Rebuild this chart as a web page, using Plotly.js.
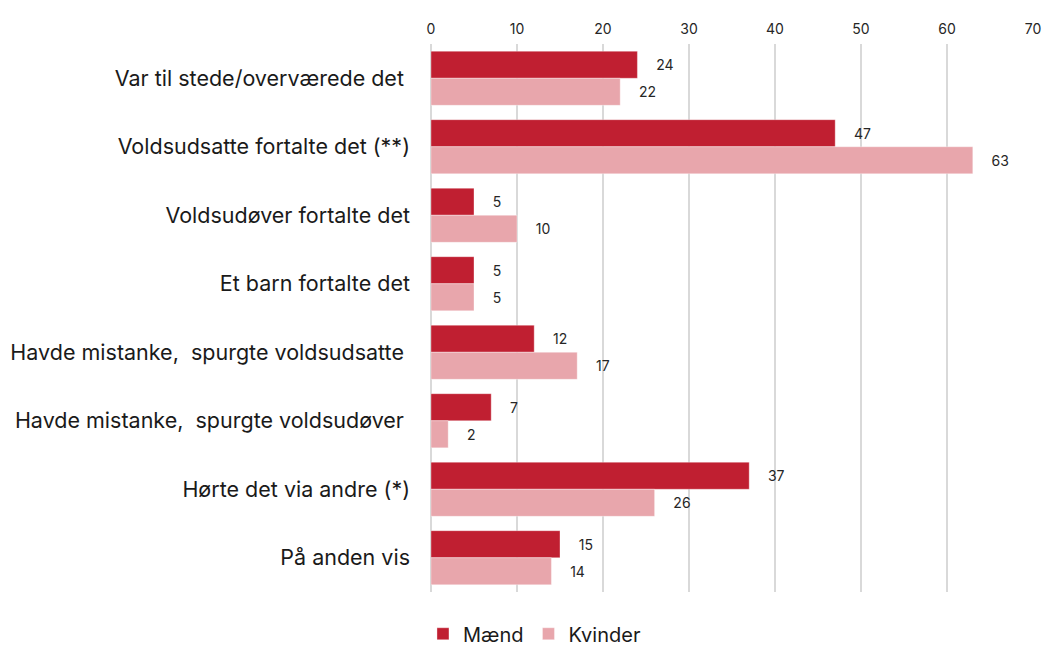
<!DOCTYPE html>
<html><head><meta charset="utf-8">
<script src="https://cdn.plot.ly/plotly-3.0.1.min.js"></script>
<style>html,body{margin:0;padding:0;background:#fff}#chart{width:1048px;height:650px}</style>
</head><body><div id="chart"></div>
<script>
const categories = [
  "Var til stede/overværede det\u00a0",
  "Voldsudsatte fortalte det (**)",
  "Voldsudøver fortalte det",
  "Et barn fortalte det",
  "Havde mistanke,\u00a0 spurgte voldsudsatte\u00a0",
  "Havde mistanke,\u00a0 spurgte voldsudøver\u00a0",
  "Hørte det via andre (*)",
  "På anden vis"
];
const maend = [24, 47, 5, 5, 12, 7, 37, 15];
const kvinder = [22, 63, 10, 5, 17, 2, 26, 14];
const xTicks = [0, 10, 20, 30, 40, 50, 60, 70];

const font = "Inter, 'Open Sans', sans-serif";
const mk = (name, vals, color) => ({
  type: 'bar', orientation: 'h', name: name,
  y: categories, x: vals,
  marker: {color: color, line: {color: 'rgba(255,255,255,0.35)', width: 1}},
  text: vals.map(v => '\u00a0\u00a0\u00a0\u00a0' + v),
  textposition: 'outside', cliponaxis: false,
  textfont: {family: font, size: 14, color: '#262626'},
  hoverinfo: 'x+name'
});
const data = [mk('Mænd', maend, '#C01F31'), mk('Kvinder', kvinder, '#E8A6AC')];
const layout = {
  width: 1048, height: 650,
  margin: {l: 431, r: 15, t: 44, b: 58, autoexpand: false},
  paper_bgcolor: '#fff', plot_bgcolor: '#fff',
  barmode: 'group', bargap: 0.21, bargroupgap: 0,
  font: {family: font, color: '#1a1a1a'},
  xaxis: {
    side: 'top', range: [0, 70], tickvals: xTicks, ticktext: xTicks.map(String),
    showgrid: true, gridcolor: '#d9d9d9', gridwidth: 2,
    zeroline: true, zerolinecolor: '#d9d9d9', zerolinewidth: 2,
    showline: false, ticks: '', tickfont: {family: font, size: 14, color: '#262626'},
    ticklabelstandoff: 6, fixedrange: true, automargin: false
  },
  yaxis: {
    autorange: 'reversed', showgrid: false, zeroline: false, showline: false,
    ticks: '', tickfont: {family: font, size: 21.5, color: '#1a1a1a'},
    ticklabelstandoff: 20, fixedrange: true, automargin: false
  },
  showlegend: true,
  legend: {
    orientation: 'h', xref: 'container', yref: 'container',
    x: 0.51, xanchor: 'center', y: 0.025, yanchor: 'middle',
    font: {family: font, size: 20, color: '#1a1a1a'},
    itemwidth: 30, traceorder: 'normal'
  }
};
Plotly.newPlot('chart', data, layout, {displayModeBar: false, staticPlot: true});
</script></body></html>
